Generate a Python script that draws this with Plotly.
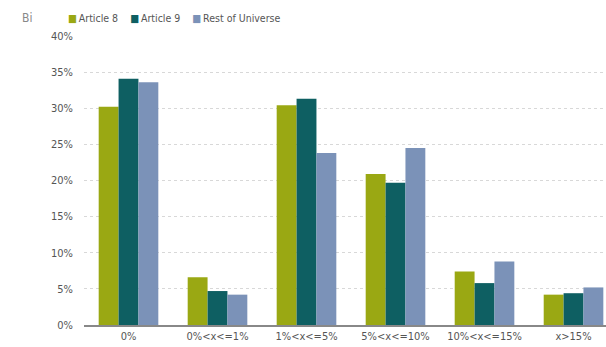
import plotly.graph_objects as go

categories = ["0%", "0%<x<=1%", "1%<x<=5%", "5%<x<=10%", "10%<x<=15%", "x>15%"]
article8 = [30.2, 6.6, 30.4, 20.9, 7.4, 4.2]
article9 = [34.1, 4.7, 31.3, 19.7, 5.8, 4.4]
rest_of_universe = [33.6, 4.2, 23.8, 24.5, 8.8, 5.2]
y_ticks = [0, 5, 10, 15, 20, 25, 30, 35, 40]

FONT = "DejaVu Sans Condensed, Liberation Sans Narrow, Roboto, sans-serif"
TEXT = "#555"

series = [
    ("Article 8", article8, "#9aa813"),
    ("Article 9", article9, "#0e5f62"),
    ("Rest of Universe", rest_of_universe, "#7b92b8"),
]

fig = go.Figure()
for name, vals, color in series:
    fig.add_trace(go.Bar(x=categories, y=vals, name=name, marker_color=color,
                         marker_line_width=0, showlegend=False))

# compact key drawn as a single line of text with coloured squares
gap = "\u00a0" * 4
key = gap.join(
    f'<span style="color:{c}">■</span>\u2009{n}' for n, _, c in series
)

fig.update_layout(
    width=606, height=347,
    margin=dict(l=84, r=0, t=36, b=22),
    paper_bgcolor="white", plot_bgcolor="white",
    barmode="group", bargap=0.33, bargroupgap=0,
    font=dict(family=FONT, size=11, color=TEXT),
    annotations=[
        dict(text="Bi", x=-0.122, y=1.063, xref="paper", yref="paper",
             xanchor="left", yanchor="middle", showarrow=False,
             font=dict(family=FONT, size=12, color="#888")),
        dict(text=key, x=-0.035, y=1.063, xref="paper", yref="paper",
             xanchor="left", yanchor="middle", showarrow=False,
             font=dict(family=FONT, size=10.5, color=TEXT)),
    ],
)

fig.update_xaxes(range=[-0.5, 5.365], showgrid=False, showline=True,
                 linecolor="#888", linewidth=1.5, ticks="",
                 tickfont=dict(family=FONT, size=11, color=TEXT))
fig.update_yaxes(range=[0, 40], tickvals=y_ticks, ticktext=[f"{v}%" for v in y_ticks],
                 showgrid=True, gridcolor="#d8d8d8", griddash="dot", gridwidth=1,
                 zeroline=False, showline=False, ticklabelstandoff=10,
                 tickfont=dict(family=FONT, size=11, color=TEXT))

fig.write_html("out.html")
